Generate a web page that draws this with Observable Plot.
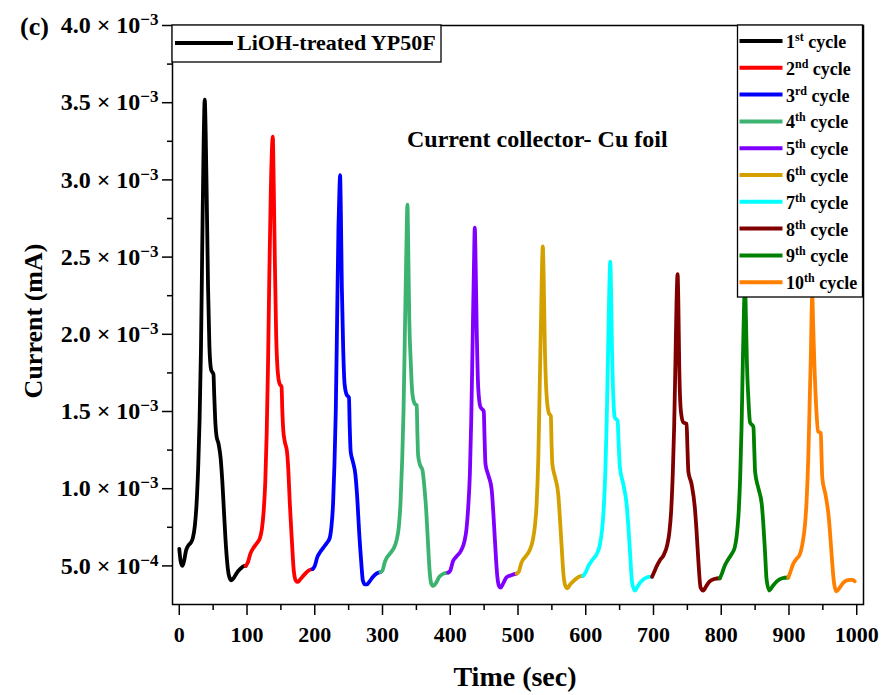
<!DOCTYPE html>
<html><head><meta charset="utf-8">
<script src="https://cdn.jsdelivr.net/npm/d3@7"></script>
<script src="https://cdn.jsdelivr.net/npm/@observablehq/plot@0.6"></script>
<style>
html,body{margin:0;padding:0;background:#fff;}
#chart{width:883px;height:695px;}
</style>
</head><body><div id="chart"></div>
<script>
// ---- data ----
const cycleNumbers = ["1", "2", "3", "4", "5", "6", "7", "8", "9", "10"];
const cycleSuffixes = ["st", "nd", "rd", "th", "th", "th", "th", "th", "th", "th"];
const cycleColors = ["#000000", "#ff0000", "#0000ff", "#3cb371", "#8000ff", "#d4a000", "#00ffff", "#800000", "#008000", "#ff8000"];

const c1 = [[0,6.1e-4],[2,5.3e-4],[4.5,5.0e-4],[7,5.3e-4],[10,6.0e-4],[13,6.3e-4],[17,6.5e-4],[20,6.8e-4],[23,7.6e-4],[25.5,9.0e-4],[28,1.15e-3],[30,1.45e-3],[32,1.9e-3],[34,2.6e-3],[36,3.25e-3],[37.6,3.52e-3],[39,3.3e-3],[40.5,2.9e-3],[42.5,2.3e-3],[44.5,1.92e-3],[47,1.77e-3],[50.5,1.74e-3],[51.5,1.62e-3],[53,1.45e-3],[55,1.34e-3],[58,1.29e-3],[61,1.2e-3],[63.5,1.05e-3],[66,8.5e-4],[69,6.2e-4],[72,4.7e-4],[75,4.15e-4],[77,4.07e-4],[80,4.2e-4],[85,4.55e-4],[90,4.8e-4],[96,5.0e-4],[98,5.0e-4]];
const c2 = [[98,5.0e-4],[101,5.2e-4],[105,5.8e-4],[110,6.2e-4],[115,6.5e-4],[119,6.8e-4],[122,7.4e-4],[124.5,8.5e-4],[127,1.05e-3],[129,1.35e-3],[131,1.8e-3],[133,2.4e-3],[135,2.9e-3],[136.8,3.2e-3],[138,3.28e-3],[139.5,2.95e-3],[141,2.5e-3],[143,2.0e-3],[145,1.78e-3],[148,1.68e-3],[151,1.66e-3],[152,1.52e-3],[153.5,1.38e-3],[156,1.3e-3],[159,1.24e-3],[161,1.12e-3],[163,9.2e-4],[166,6.8e-4],[169,4.7e-4],[172,4.05e-4],[175,3.96e-4],[179,4.15e-4],[185,4.45e-4],[191,4.7e-4],[197,4.8e-4]];
const c3 = [[197,4.8e-4],[200,5.0e-4],[204,5.6e-4],[208,5.9e-4],[213,6.2e-4],[218,6.5e-4],[222,6.8e-4],[224.5,7.5e-4],[227,9.0e-4],[229,1.15e-3],[231,1.5e-3],[233,2.1e-3],[235,2.7e-3],[236.5,2.95e-3],[237.4,3.03e-3],[238.5,2.8e-3],[240,2.3e-3],[242,1.9e-3],[244,1.68e-3],[247,1.61e-3],[250.5,1.59e-3],[251.5,1.42e-3],[253,1.24e-3],[256,1.18e-3],[260,1.09e-3],[263,9.2e-4],[265.5,7.2e-4],[268.5,5.3e-4],[271,4.05e-4],[274,3.8e-4],[277,3.8e-4],[281,4.0e-4],[286,4.3e-4],[291,4.5e-4],[297,4.6e-4]];
const c4 = [[297,4.6e-4],[300,4.7e-4],[303,5.2e-4],[306,5.5e-4],[311,5.8e-4],[316,6.1e-4],[321,6.7e-4],[324,7.5e-4],[326.5,9.0e-4],[329,1.18e-3],[331,1.5e-3],[333,2.0e-3],[335,2.5e-3],[336.8,2.84e-3],[338,2.55e-3],[339.5,2.1e-3],[341.5,1.84e-3],[344,1.62e-3],[347.5,1.55e-3],[350.5,1.54e-3],[351.5,1.36e-3],[352.5,1.22e-3],[355,1.16e-3],[359,1.12e-3],[362,1.0e-3],[364.5,8.6e-4],[367,6.6e-4],[369.5,4.7e-4],[372,3.85e-4],[375,3.7e-4],[379,3.9e-4],[384,4.3e-4],[390,4.5e-4],[397,4.57e-4]];
const c5 = [[397,4.57e-4],[400,4.7e-4],[404,5.3e-4],[409,5.6e-4],[416,6.0e-4],[421,6.6e-4],[424,7.4e-4],[426.5,8.8e-4],[429,1.1e-3],[431,1.45e-3],[433,1.95e-3],[435,2.45e-3],[436.2,2.69e-3],[437.5,2.45e-3],[439,2.05e-3],[441.2,1.66e-3],[444.5,1.53e-3],[449.5,1.5e-3],[450.5,1.35e-3],[452,1.16e-3],[456,1.09e-3],[461,1.0e-3],[463.5,8.5e-4],[466,6.6e-4],[469.5,4.3e-4],[472,3.7e-4],[474.5,3.6e-4],[478,3.85e-4],[483,4.25e-4],[490,4.4e-4],[498,4.5e-4]];
const c6 = [[498,4.5e-4],[501,4.6e-4],[505,5.2e-4],[511,5.6e-4],[517,6.0e-4],[522,6.7e-4],[525,7.6e-4],[527.5,9.0e-4],[530,1.2e-3],[532,1.65e-3],[534,2.1e-3],[535.5,2.45e-3],[536.6,2.57e-3],[537.8,2.4e-3],[539.5,1.95e-3],[542,1.62e-3],[545.5,1.49e-3],[548.5,1.47e-3],[549.5,1.3e-3],[550.7,1.16e-3],[555,1.07e-3],[559.5,9.6e-4],[562,8.0e-4],[564.5,6.2e-4],[567,4.5e-4],[570,3.7e-4],[573,3.55e-4],[577,3.8e-4],[584,4.1e-4],[590,4.3e-4],[596,4.35e-4]];
const c7 = [[596,4.35e-4],[600,4.6e-4],[604,5.0e-4],[610,5.4e-4],[616,5.75e-4],[621,6.4e-4],[624,7.3e-4],[626.5,8.7e-4],[629,1.12e-3],[631,1.45e-3],[633,1.9e-3],[634.8,2.3e-3],[636.2,2.47e-3],[637.3,2.3e-3],[638.8,1.9e-3],[640.8,1.58e-3],[643,1.46e-3],[647,1.44e-3],[648.5,1.3e-3],[650.4,1.14e-3],[655.4,1.03e-3],[660.3,9.0e-4],[663,7.5e-4],[665.5,5.8e-4],[668.5,3.9e-4],[672.5,3.4e-4],[677,3.7e-4],[682,4.0e-4],[690,4.25e-4],[698,4.3e-4]];
const c8 = [[698,4.3e-4],[701,4.6e-4],[705,5.0e-4],[710,5.4e-4],[715,5.7e-4],[720.5,6.4e-4],[723.5,7.2e-4],[726,8.5e-4],[728.5,1.1e-3],[730.5,1.4e-3],[732.3,1.8e-3],[734,2.2e-3],[735.6,2.39e-3],[736.7,2.2e-3],[738,1.8e-3],[740.5,1.5e-3],[744,1.43e-3],[748.9,1.42e-3],[750,1.28e-3],[751.5,1.11e-3],[756.2,1.03e-3],[761,8.8e-4],[763.5,7.3e-4],[766,5.5e-4],[769.5,3.6e-4],[773.4,3.4e-4],[778,3.7e-4],[783,4.0e-4],[790,4.15e-4],[798,4.2e-4]];
const c9 = [[798,4.2e-4],[801,4.5e-4],[805,5.0e-4],[810,5.4e-4],[815,5.75e-4],[820,6.2e-4],[823,7.0e-4],[825.5,8.3e-4],[828,1.08e-3],[830,1.4e-3],[832,1.85e-3],[833.5,2.15e-3],[835,2.33e-3],[836.5,2.1e-3],[838,1.8e-3],[840,1.59e-3],[842.5,1.43e-3],[847.5,1.4e-3],[848.8,1.25e-3],[850,1.11e-3],[855,1.0e-3],[859.8,9.0e-4],[862,7.8e-4],[864.5,6.0e-4],[867,4.1e-4],[871,3.4e-4],[876,3.7e-4],[882,4.0e-4],[890,4.2e-4],[899,4.25e-4]];
const c10 = [[899,4.25e-4],[902,4.6e-4],[906,5.1e-4],[911,5.45e-4],[916,5.75e-4],[920.5,6.6e-4],[923.5,7.6e-4],[926,9.2e-4],[928.5,1.2e-3],[930.5,1.55e-3],[932.3,1.87e-3],[934.3,2.25e-3],[935.8,2.05e-3],[937.2,1.85e-3],[940.5,1.5e-3],[943,1.37e-3],[947,1.36e-3],[948,1.22e-3],[949.2,1.07e-3],[954,9.6e-4],[958.8,8.1e-4],[961,6.9e-4],[963,5.7e-4],[966.5,3.9e-4],[970,3.35e-4],[975,3.6e-4],[980,3.9e-4],[985,4.05e-4],[990,4.1e-4],[994,4.1e-4],[997,4.0e-4]];
const cycles = [c1, c2, c3, c4, c5, c6, c7, c8, c9, c10];

const xTicks = [0, 100, 200, 300, 400, 500, 600, 700, 800, 900, 1000];
const xMinorTicks = [50, 150, 250, 350, 450, 550, 650, 750, 850, 950];
const yTicks = [5e-4, 1.0e-3, 1.5e-3, 2.0e-3, 2.5e-3, 3.0e-3, 3.5e-3, 4.0e-3];
const yMinorTicks = [7.5e-4, 1.25e-3, 1.75e-3, 2.25e-3, 2.75e-3, 3.25e-3, 3.75e-3];

const xTitle = "Time (sec)";
const yTitle = "Current (mA)";
const panelLabel = "(c)";
const annotation = "Current collector- Cu foil";
const sampleLabel = "LiOH-treated YP50F";

// ---- chart ----
const FONT = "'Liberation Serif', 'Times New Roman', serif";
function fmtY(v) {
  const e = Math.floor(Math.log10(v) + 1e-9);
  const m = v / Math.pow(10, e);
  return m.toFixed(1) + " \u00d7 10|\u2212" + Math.abs(e);
}

const chart = Plot.plot({
  width: 883, height: 695,
  marginLeft: 172, marginRight: 20, marginTop: 25, marginBottom: 91,
  style: {fontFamily: FONT, fontWeight: "bold", fontSize: "22px", background: "white", color: "black", overflow: "visible"},
  x: {domain: [-10, 1010]},
  y: {domain: [2.5e-4, 4.0e-3]},
  marks: [
    Plot.axisX(xTicks, {tickSize: 11, tickPadding: 11, strokeWidth: 1.5, label: null, tickFormat: d => String(d)}),
    Plot.axisX(xMinorTicks, {tickSize: 6, strokeWidth: 1.5, label: null, tickFormat: () => ""}),
    Plot.axisY(yTicks, {tickSize: 10, tickPadding: 4, strokeWidth: 1.5, label: null, tickFormat: fmtY}),
    Plot.axisY(yMinorTicks, {tickSize: 5, strokeWidth: 1.5, label: null, tickFormat: () => ""}),
    ...cycles.map((c, i) => Plot.line(c, {x: d => d[0], y: d => d[1], stroke: cycleColors[i], strokeWidth: 3.8, curve: "monotone-x"})),
    Plot.frame({stroke: "black", strokeWidth: 1.5})
  ]
});

document.getElementById("chart").appendChild(chart);

const svg = d3.select(chart);
// superscript exponents in y tick labels
svg.selectAll('g[aria-label="y-axis tick label"] text').each(function () {
  const s = this.textContent;
  if (s.includes("|")) {
    const [a, b] = s.split("|");
    this.textContent = a;
    this.setAttribute("font-size", "24px");
    d3.select(this).append("tspan").attr("dy", "-8").attr("font-size", "17px").text(b);
  }
});

const ov = svg.append("g").attr("font-family", FONT).attr("font-weight", "bold").attr("fill", "black").attr("text-anchor", "start");

// panel label
ov.append("text").attr("x", 20).attr("y", 35).attr("font-size", 26).text(panelLabel);

// axis titles
ov.append("text").attr("x", 515).attr("y", 686).attr("text-anchor", "middle").attr("font-size", 28).text(xTitle);
ov.append("text").attr("transform", "translate(42,321) rotate(-90)").attr("text-anchor", "middle").attr("font-size", 26).text(yTitle);

// annotation
ov.append("text").attr("x", 407).attr("y", 147).attr("font-size", 24).text(annotation);

// top-left legend
ov.append("rect").attr("x", 172).attr("y", 25).attr("width", 269).attr("height", 37).attr("fill", "white").attr("stroke", "black").attr("stroke-width", 1.3);
ov.append("line").attr("x1", 175).attr("x2", 233).attr("y1", 43).attr("y2", 43).attr("stroke", "black").attr("stroke-width", 4);
ov.append("text").attr("x", 237).attr("y", 50).attr("font-size", 22).text(sampleLabel);

// cycle legend
ov.append("rect").attr("x", 737.5).attr("y", 25).attr("width", 125).attr("height", 272).attr("fill", "white").attr("stroke", "black").attr("stroke-width", 1.3);
cycleNumbers.forEach((n, i) => {
  const y = 41 + i * 26.8;
  ov.append("line").attr("x1", 739.5).attr("x2", 782.5).attr("y1", y).attr("y2", y).attr("stroke", cycleColors[i]).attr("stroke-width", 4);
  const t = ov.append("text").attr("x", 786).attr("y", y + 7).attr("font-size", 18);
  t.append("tspan").text(n);
  t.append("tspan").attr("dy", -7).attr("font-size", 12).text(cycleSuffixes[i]);
  t.append("tspan").attr("dy", 7).text(" cycle");
});
</script>
</body></html>
